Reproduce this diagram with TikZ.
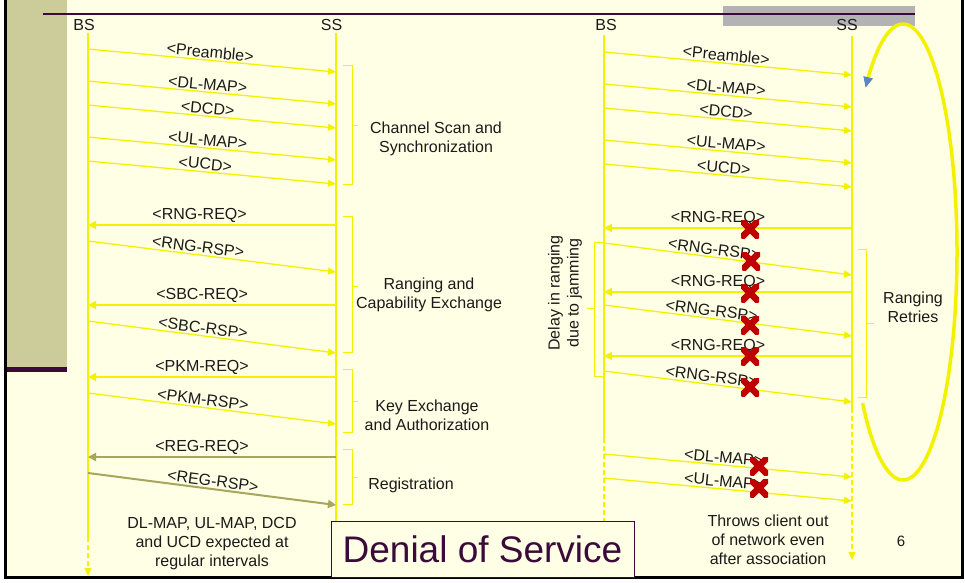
\documentclass[tikz,border=0pt]{standalone}
\usepackage{fontspec}
\setmainfont{Liberation Sans}
\usetikzlibrary{arrows.meta}

\definecolor{paper}{HTML}{FFFFE5}
\definecolor{sig}{HTML}{F2F200}
\definecolor{regline}{HTML}{A6A65C}
\definecolor{sidebar}{HTML}{CCCC9A}
\definecolor{plum}{HTML}{3A0A3A}
\definecolor{bargray}{HTML}{B3B3B3}
\definecolor{jamred}{HTML}{C00000}
\definecolor{ink}{HTML}{1A1A1A}
\definecolor{tipblue}{HTML}{5B86C2}

\begin{document}
\begin{tikzpicture}[x=1pt,y=-1pt,
  font=\fontsize{16}{19}\selectfont, text=ink,
  life/.style={sig, line width=1.3pt},
  lifedash/.style={sig, line width=1.3pt, dash pattern=on 5pt off 3pt},
  msg/.style={sig, line width=1.3pt, -{Triangle[length=8pt,width=7pt]}},
  req/.style={sig, line width=2pt, -{Triangle[length=8pt,width=8pt]}},
  regmsg/.style={regline, line width=2pt, -{Triangle[length=8pt,width=8pt]}},
  lbl/.style={above, sloped, inner sep=1.5pt, text=ink},
  hlbl/.style={above, inner sep=1.5pt, text=ink},
  bracket/.style={sig, line width=1pt},
  note/.style={align=center, inner sep=0pt, text=ink},
  head/.style={inner sep=0pt, text=ink},
  jam/.style={minimum size=18pt, inner sep=0pt,
    path picture={\draw[jamred, line width=6.5pt]
      (path picture bounding box.south west) -- (path picture bounding box.north east)
      (path picture bounding box.north west) -- (path picture bounding box.south east);}}
]
\useasboundingbox (0,0) rectangle (965,582);

% slide background and frame
\fill[white] (0,0) rectangle (965,582);
\fill[paper] (5,0) rectangle (962,577);
\fill[sidebar] (6.5,0) rectangle (67,367);
\fill[plum] (6.5,367) rectangle (67,371.5);
\fill[bargray] (723,6) rectangle (915,26);
\draw[plum, line width=1.6pt] (43,14) -- (915,14);
\draw[black, line width=3pt, line join=miter] (5,0) -- (5,577) -- (962,577) -- (962,0);

% ---------------- headers and lifelines ----------------
\node[head] (hbsA) at (84,24.5) {BS};
\node[head] (hssA) at (331.5,24.5) {SS};
\node[head] (hbsB) at (606,25) {BS};
\node[head] (hssB) at (847,24.5) {SS};

\coordinate (bsAtop) at (88,33);   \coordinate (bsAcut) at (88,537);  \coordinate (bsAend) at (88,576);
\coordinate (ssAtop) at (336,33);  \coordinate (ssAend) at (336,521);
\coordinate (bsBtop) at (604,35);  \coordinate (bsBcut) at (604,438); \coordinate (bsBend) at (604,521);
\coordinate (ssBtop) at (852,36);  \coordinate (ssBcut) at (852,408); \coordinate (ssBend) at (852,560);

\draw[life] (bsAtop) -- (bsAcut);
\draw[lifedash, -{Triangle[length=8pt,width=7pt]}] (bsAcut) -- (bsAend);
\draw[life] (ssAtop) -- (ssAend);
\draw[life] (bsBtop) -- (bsBcut);
\draw[lifedash] (bsBcut) -- (bsBend);
\draw[life] (ssBtop) -- (ssBcut);
\draw[lifedash, -{Triangle[length=8pt,width=7pt]}] (ssBcut) -- (ssBend);

% ---------------- normal network entry ----------------
\coordinate (a1) at (88,49);   \coordinate (b1) at (336,72);
\coordinate (a2) at (88,81);   \coordinate (b2) at (336,104);
\coordinate (a3) at (88,105);  \coordinate (b3) at (336,128);
\coordinate (a4) at (88,137);  \coordinate (b4) at (336,160);
\coordinate (a5) at (88,161);  \coordinate (b5) at (336,184);
\coordinate (a6) at (88,225);  \coordinate (b6) at (336,225);
\coordinate (a7) at (88,241);  \coordinate (b7) at (336,272);
\coordinate (a8) at (88,305);  \coordinate (b8) at (336,305);
\coordinate (a9) at (88,321);  \coordinate (b9) at (336,353);
\coordinate (a10) at (88,377); \coordinate (b10) at (336,377);
\coordinate (a11) at (88,393); \coordinate (b11) at (336,424);
\coordinate (a12) at (88,457); \coordinate (b12) at (336,457);
\coordinate (a13) at (88,473); \coordinate (b13) at (336,505);

\draw[msg] (a1) -- node[lbl, pos=0.49] (mA1) {<Preamble>} (b1);
\draw[msg] (a2) -- node[lbl, pos=0.48] (mA2) {<DL-MAP>} (b2);
\draw[msg] (a3) -- node[lbl, pos=0.48] (mA3) {<DCD>} (b3);
\draw[msg] (a4) -- node[lbl, pos=0.48] (mA4) {<UL-MAP>} (b4);
\draw[msg] (a5) -- node[lbl, pos=0.47] (mA5) {<UCD>} (b5);
\draw[req] (b6) -- node[hlbl, pos=0.55] (mA6) {<RNG-REQ>} (a6);
\draw[msg] (a7) -- node[lbl, pos=0.44] (mA7) {<RNG-RSP>} (b7);
\draw[req] (b8) -- node[hlbl, pos=0.54] (mA8) {<SBC-REQ>} (a8);
\draw[msg] (a9) -- node[lbl, pos=0.46] (mA9) {<SBC-RSP>} (b9);
\draw[req] (b10) -- node[hlbl, pos=0.54] (mA10) {<PKM-REQ>} (a10);
\draw[msg] (a11) -- node[lbl, pos=0.46] (mA11) {<PKM-RSP>} (b11);
\draw[regmsg] (b12) -- node[hlbl, pos=0.54] (mA12) {<REG-REQ>} (a12);
\draw[regmsg] (a13) -- node[lbl, pos=0.50] (mA13) {<REG-RSP>} (b13);

% phase brackets
\draw[bracket] (343,65) -- (352,65) -- (352,184) -- (343,184) (352,125) -- (358,125);
\draw[bracket] (343,216) -- (352,216) -- (352,352) -- (343,352) (352,286) -- (358,286);
\draw[bracket] (343,369) -- (352,369) -- (352,432) -- (343,432) (352,401) -- (358,401);
\draw[bracket] (343,449) -- (352,449) -- (352,504) -- (343,504) (352,477) -- (358,477);

\node[note] (ph1) at (436,138.5) {Channel Scan and\\Synchronization};
\node[note] (ph2) at (429,294.5) {Ranging and\\Capability Exchange};
\node[note] (ph3) at (427,415) {Key Exchange\\and Authorization};
\node[note] (ph4) at (411,485) {Registration};

\node[note] (capA) at (212,544) {DL-MAP, UL-MAP, DCD\\and UCD expected at\\regular intervals};

% ---------------- jammed network entry ----------------
\coordinate (c1) at (604,52);   \coordinate (d1) at (852,75);
\coordinate (c2) at (604,84);   \coordinate (d2) at (852,107);
\coordinate (c3) at (604,108);  \coordinate (d3) at (852,131);
\coordinate (c4) at (604,140);  \coordinate (d4) at (852,163);
\coordinate (c5) at (604,164);  \coordinate (d5) at (852,187);
\coordinate (c6) at (604,228);  \coordinate (d6) at (852,228);
\coordinate (c7) at (604,243);  \coordinate (d7) at (852,275);
\coordinate (c8) at (604,292);  \coordinate (d8) at (852,292);
\coordinate (c9) at (604,305);  \coordinate (d9) at (852,336);
\coordinate (c10) at (604,356); \coordinate (d10) at (852,356);
\coordinate (c11) at (604,371); \coordinate (d11) at (852,402);
\coordinate (c12) at (604,454); \coordinate (d12) at (852,477);
\coordinate (c13) at (604,478); \coordinate (d13) at (852,501);

\draw[msg] (c1) -- node[lbl, pos=0.49] (mB1) {<Preamble>} (d1);
\draw[msg] (c2) -- node[lbl, pos=0.49] (mB2) {<DL-MAP>} (d2);
\draw[msg] (c3) -- node[lbl, pos=0.49] (mB3) {<DCD>} (d3);
\draw[msg] (c4) -- node[lbl, pos=0.49] (mB4) {<UL-MAP>} (d4);
\draw[msg] (c5) -- node[lbl, pos=0.48] (mB5) {<UCD>} (d5);
\draw[req] (d6) -- node[hlbl, pos=0.54] (mB6) {<RNG-REQ>} (c6);
\draw[msg] (c7) -- node[lbl, pos=0.44] (mB7) {<RNG-RSP>} (d7);
\draw[req] (d8) -- node[hlbl, pos=0.54] (mB8) {<RNG-REQ>} (c8);
\draw[msg] (c9) -- node[lbl, pos=0.43] (mB9) {<RNG-RSP>} (d9);
\draw[req] (d10) -- node[hlbl, pos=0.54] (mB10) {<RNG-REQ>} (c10);
\draw[msg] (c11) -- node[lbl, pos=0.43] (mB11) {<RNG-RSP>} (d11);
\draw[msg] (c12) -- node[lbl, pos=0.48] (mB12) {<DL-MAP>} (d12);
\draw[msg] (c13) -- node[lbl, pos=0.48] (mB13) {<UL-MAP>} (d13);

% jammed messages
\node[jam] (j1) at (750,229) {};
\node[jam] (j2) at (751,261) {};
\node[jam] (j3) at (750,293) {};
\node[jam] (j4) at (750,325) {};
\node[jam] (j5) at (750,356) {};
\node[jam] (j6) at (750,387) {};
\node[jam] (j7) at (759,466) {};
\node[jam] (j8) at (759,488) {};

% delay and retry brackets
\draw[bracket] (603,242) -- (594,242) -- (594,376) -- (603,376) (594,308) -- (587,308);
\node[note, rotate=90] (delay) at (565,293) {Delay in ranging\\due to jamming};
\draw[bracket] (858,249) -- (866,249) -- (866,397) -- (858,397) (866,323) -- (874,323);
\node[note] (retry) at (913,307) {Ranging\\Retries};

\node[note] (capB) at (768,540) {Throws client out\\of network even\\after association};

% retry loop
\draw[sig, line width=3.5pt, arrows={Triangle[color=tipblue,length=11pt,width=9pt]-}]
  plot[domain=-134:138.5, samples=140, smooth] ({903+54*cos(\x)},{252+228*sin(\x)});

% title box and page number
\node[draw=plum, line width=1pt, fill=paper, minimum width=303pt, minimum height=56pt,
      inner sep=0pt, font=\fontsize{37}{44}\selectfont, text=plum] (dos) at (482.5,549) {Denial of Service};
\node[note, font=\fontsize{15}{18}\selectfont] (pg) at (901,541) {6};
\end{tikzpicture}
\end{document}
